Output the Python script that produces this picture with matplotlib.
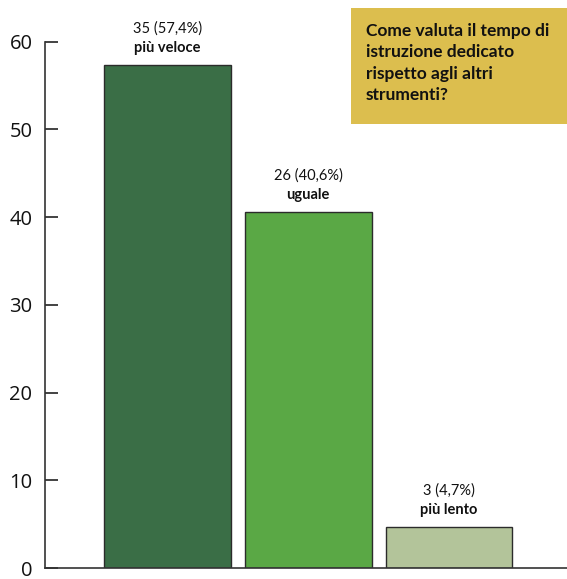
import matplotlib
matplotlib.use("Agg")
import matplotlib.pyplot as plt
from matplotlib.patches import Rectangle

# Survey answers: count, percentage and category label
categories = ["più veloce", "uguale", "più lento"]
counts = [35, 26, 3]
percentages = [57.4, 40.6, 4.7]
colors = ["#3a6e46", "#5aa845", "#b3c49a"]
yticks = [0, 10, 20, 30, 40, 50, 60]
question = "Come valuta il tempo di\nistruzione dedicato\nrispetto agli altri\nstrumenti?"

plt.rcParams["font.family"] = ["Open Sans", "DejaVu Sans"]

W, H = 567, 579
fig = plt.figure(figsize=(W / 100, H / 100), dpi=100)
left, right, top, bottom = 45, 567, 41.7, 568
ax = fig.add_axes([left / W, (H - bottom) / H, (right - left) / W, (bottom - top) / H])

x = list(range(len(categories)))
ax.bar(x, percentages, width=0.9, color=colors, edgecolor="#2b2b2b", linewidth=1.0, zorder=2)

for xi, c, p, name in zip(x, counts, percentages, categories):
    pct = f"{p:.1f}".replace(".", ",")
    ax.annotate(f"{c} ({pct}%)", (xi, p), xytext=(0, 26), textcoords="offset points",
                ha="center", va="center", fontsize=10.5, family=["Lato", "DejaVu Sans"],
                color="#111111", annotation_clip=False)
    ax.annotate(name, (xi, p), xytext=(0, 12), textcoords="offset points",
                ha="center", va="center", fontsize=10.5, fontweight="bold",
                family=["Lato", "DejaVu Sans"], color="#111111", annotation_clip=False)

ax.set_xlim(-0.869, 2.837)
ax.set_ylim(0, 60)
ax.set_yticks(yticks)
ax.set_xticks([])
ax.tick_params(axis="y", direction="in", length=9, width=1.2, color="#222222",
               labelsize=14.5, pad=9, labelcolor="#111111")
ax.spines["top"].set_visible(False)
ax.spines["right"].set_visible(False)
ax.spines["left"].set_color("#333333")
ax.spines["left"].set_linewidth(1.2)
ax.spines["bottom"].set_color("#333333")
ax.spines["bottom"].set_linewidth(1.2)

# Question box in the upper right corner
bx0, by0, bx1, by1 = 351, 8, 567, 124
fig.patches.append(Rectangle((bx0 / W, 1 - by1 / H), (bx1 - bx0) / W, (by1 - by0) / H,
                             transform=fig.transFigure, facecolor="#dcbe4e",
                             edgecolor="none", zorder=3))
fig.text(366 / W, 1 - 23 / H, question, ha="left", va="top", fontsize=12.5,
         fontweight="bold", family=["Lato", "DejaVu Sans"], color="#111111",
         linespacing=1.42, zorder=4)

fig.savefig("out.png", dpi=100)
